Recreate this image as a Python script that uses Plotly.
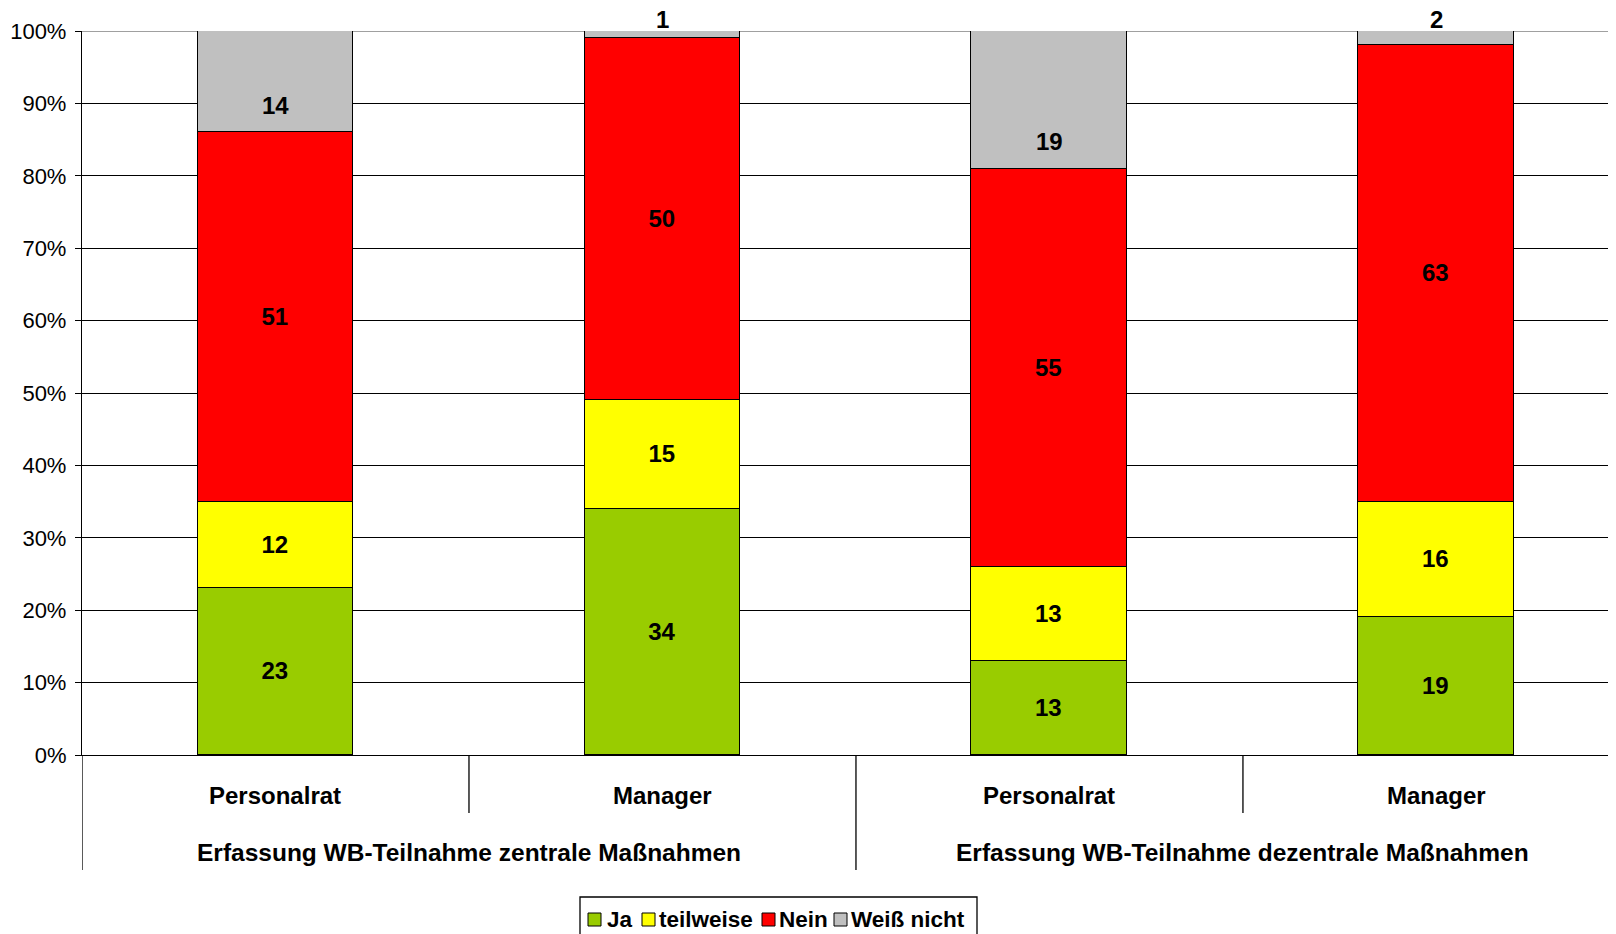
import plotly.graph_objects as go

categories = ["Personalrat", "Manager", "Personalrat", "Manager"]
groups = ["Erfassung WB-Teilnahme zentrale Maßnahmen", "Erfassung WB-Teilnahme dezentrale Maßnahmen"]
series_names = ["Ja", "teilweise", "Nein", "Weiß nicht"]
ja = [23, 34, 13, 19]
teilweise = [12, 15, 13, 16]
nein = [51, 50, 55, 63]
weiss_nicht = [14, 1, 19, 2]
colors = ["#99CC00", "#FFFF00", "#FF0000", "#C0C0C0"]
y_ticks = list(range(0, 101, 10))

FONT = "Arial, 'Liberation Sans', sans-serif"
OFF = 8  # page body margin of the html page
W, H = 1616 - OFF, 934 - OFF
ML, MT, MB = 82 - OFF, 31 - OFF, 934 - 755
PW, PH = W - ML, H - MT - MB


def px_x(p):
    # page pixel -> paper x
    return (p - OFF - ML) / PW


def px_y(p):
    # page pixel -> paper y
    return (H - MB - (p - OFF)) / PH


x = list(range(len(categories)))
all_series = [ja, teilweise, nein, weiss_nicht]

fig = go.Figure()
for idx, (name, vals, col) in enumerate(zip(series_names, all_series, colors)):
    is_top = idx == len(all_series) - 1
    fig.add_trace(go.Bar(
        x=x, y=vals, name=name, width=0.403,
        marker=dict(color=col, line=dict(color="black", width=1.3)),
        text=None if is_top else [str(v) for v in vals],
        textposition="none" if is_top else "inside",
        insidetextanchor="middle", constraintext="none",
        textfont=dict(family=FONT, size=24, color="black", weight="bold"),
        cliponaxis=False, showlegend=False,
    ))

# labels of the top (Weiß nicht) segments
for i, v in enumerate(weiss_nicht):
    base = ja[i] + teilweise[i] + nein[i]
    if v >= 5:
        fig.add_annotation(x=i, y=base, xref="x", yref="y", yshift=27, yanchor="middle",
                           text=f"<b>{v}</b>", showarrow=False,
                           font=dict(family=FONT, size=24, color="black"))
    else:
        fig.add_annotation(x=i, y=base + v, xref="x", yref="y", yshift=-3, yanchor="bottom",
                           text=f"<b>{v}</b>", showarrow=False, borderpad=0,
                           font=dict(family=FONT, size=24, color="black"))

# gray top gridline
fig.add_shape(type="line", xref="paper", yref="y", x0=0, x1=1, y0=100, y1=100,
              line=dict(color="#808080", width=1.3), layer="between")

# category labels and separators
for i, c in enumerate(categories):
    fig.add_annotation(x=i, y=px_y(795), xref="x", yref="paper", text=f"<b>{c}</b>",
                       showarrow=False, font=dict(family=FONT, size=24, color="black"),
                       yanchor="middle")
for g, name in enumerate(groups):
    fig.add_annotation(x=2 * g + 0.5, y=px_y(852), xref="x", yref="paper", text=f"<b>{name}</b>",
                       showarrow=False, font=dict(family=FONT, size=24.5, color="black"),
                       yanchor="middle")
for k in range(len(categories) + 1):
    xb = k - 0.5
    long = (k % 2 == 0)
    fig.add_shape(type="line", x0=xb, x1=xb, xref="x", yref="paper", y0=0,
                  y1=px_y(870) if long else px_y(813), line=dict(color="black", width=1.3))

# legend (drawn manually to match the compact box)
fig.add_shape(type="rect", xref="paper", yref="paper", x0=px_x(580), x1=px_x(977),
              y0=px_y(950), y1=px_y(897), line=dict(color="black", width=1.3),
              fillcolor="white", layer="above")
leg_sq = [588, 642, 762, 834]
leg_tx = [606, 658, 778, 850]
for name, col, sx, tx in zip(series_names, colors, leg_sq, leg_tx):
    fig.add_shape(type="rect", xref="paper", yref="paper", x0=px_x(sx), x1=px_x(sx + 13),
                  y0=px_y(926), y1=px_y(913), line=dict(color="black", width=1),
                  fillcolor=col, layer="above")
    fig.add_annotation(x=px_x(tx), y=px_y(919), xref="paper", yref="paper",
                       xanchor="left", yanchor="middle", text=f"<b>{name}</b>",
                       showarrow=False, font=dict(family=FONT, size=22.5, color="black"),
                       borderpad=0)

fig.update_layout(
    width=W, height=H,
    margin=dict(l=ML, r=0, t=MT, b=MB, autoexpand=False),
    paper_bgcolor="white", plot_bgcolor="white",
    barmode="stack", bargap=0.0,
    showlegend=False,
    xaxis=dict(range=[-0.5, 3.464], showticklabels=False, showgrid=False, zeroline=False,
               showline=True, linecolor="black", linewidth=1.3, ticks="", automargin=False),
    yaxis=dict(range=[0, 100], tickvals=y_ticks, ticktext=[f"{t}%" for t in y_ticks],
               showgrid=True, gridcolor="black", gridwidth=1, zeroline=False,
               showline=True, linecolor="black", linewidth=1.3,
               ticks="outside", ticklen=6, tickcolor="black", ticklabelstandoff=4,
               tickfont=dict(family=FONT, size=22, color="black"), automargin=False),
    font=dict(family=FONT, color="black"),
)
fig.write_html("out.html")
